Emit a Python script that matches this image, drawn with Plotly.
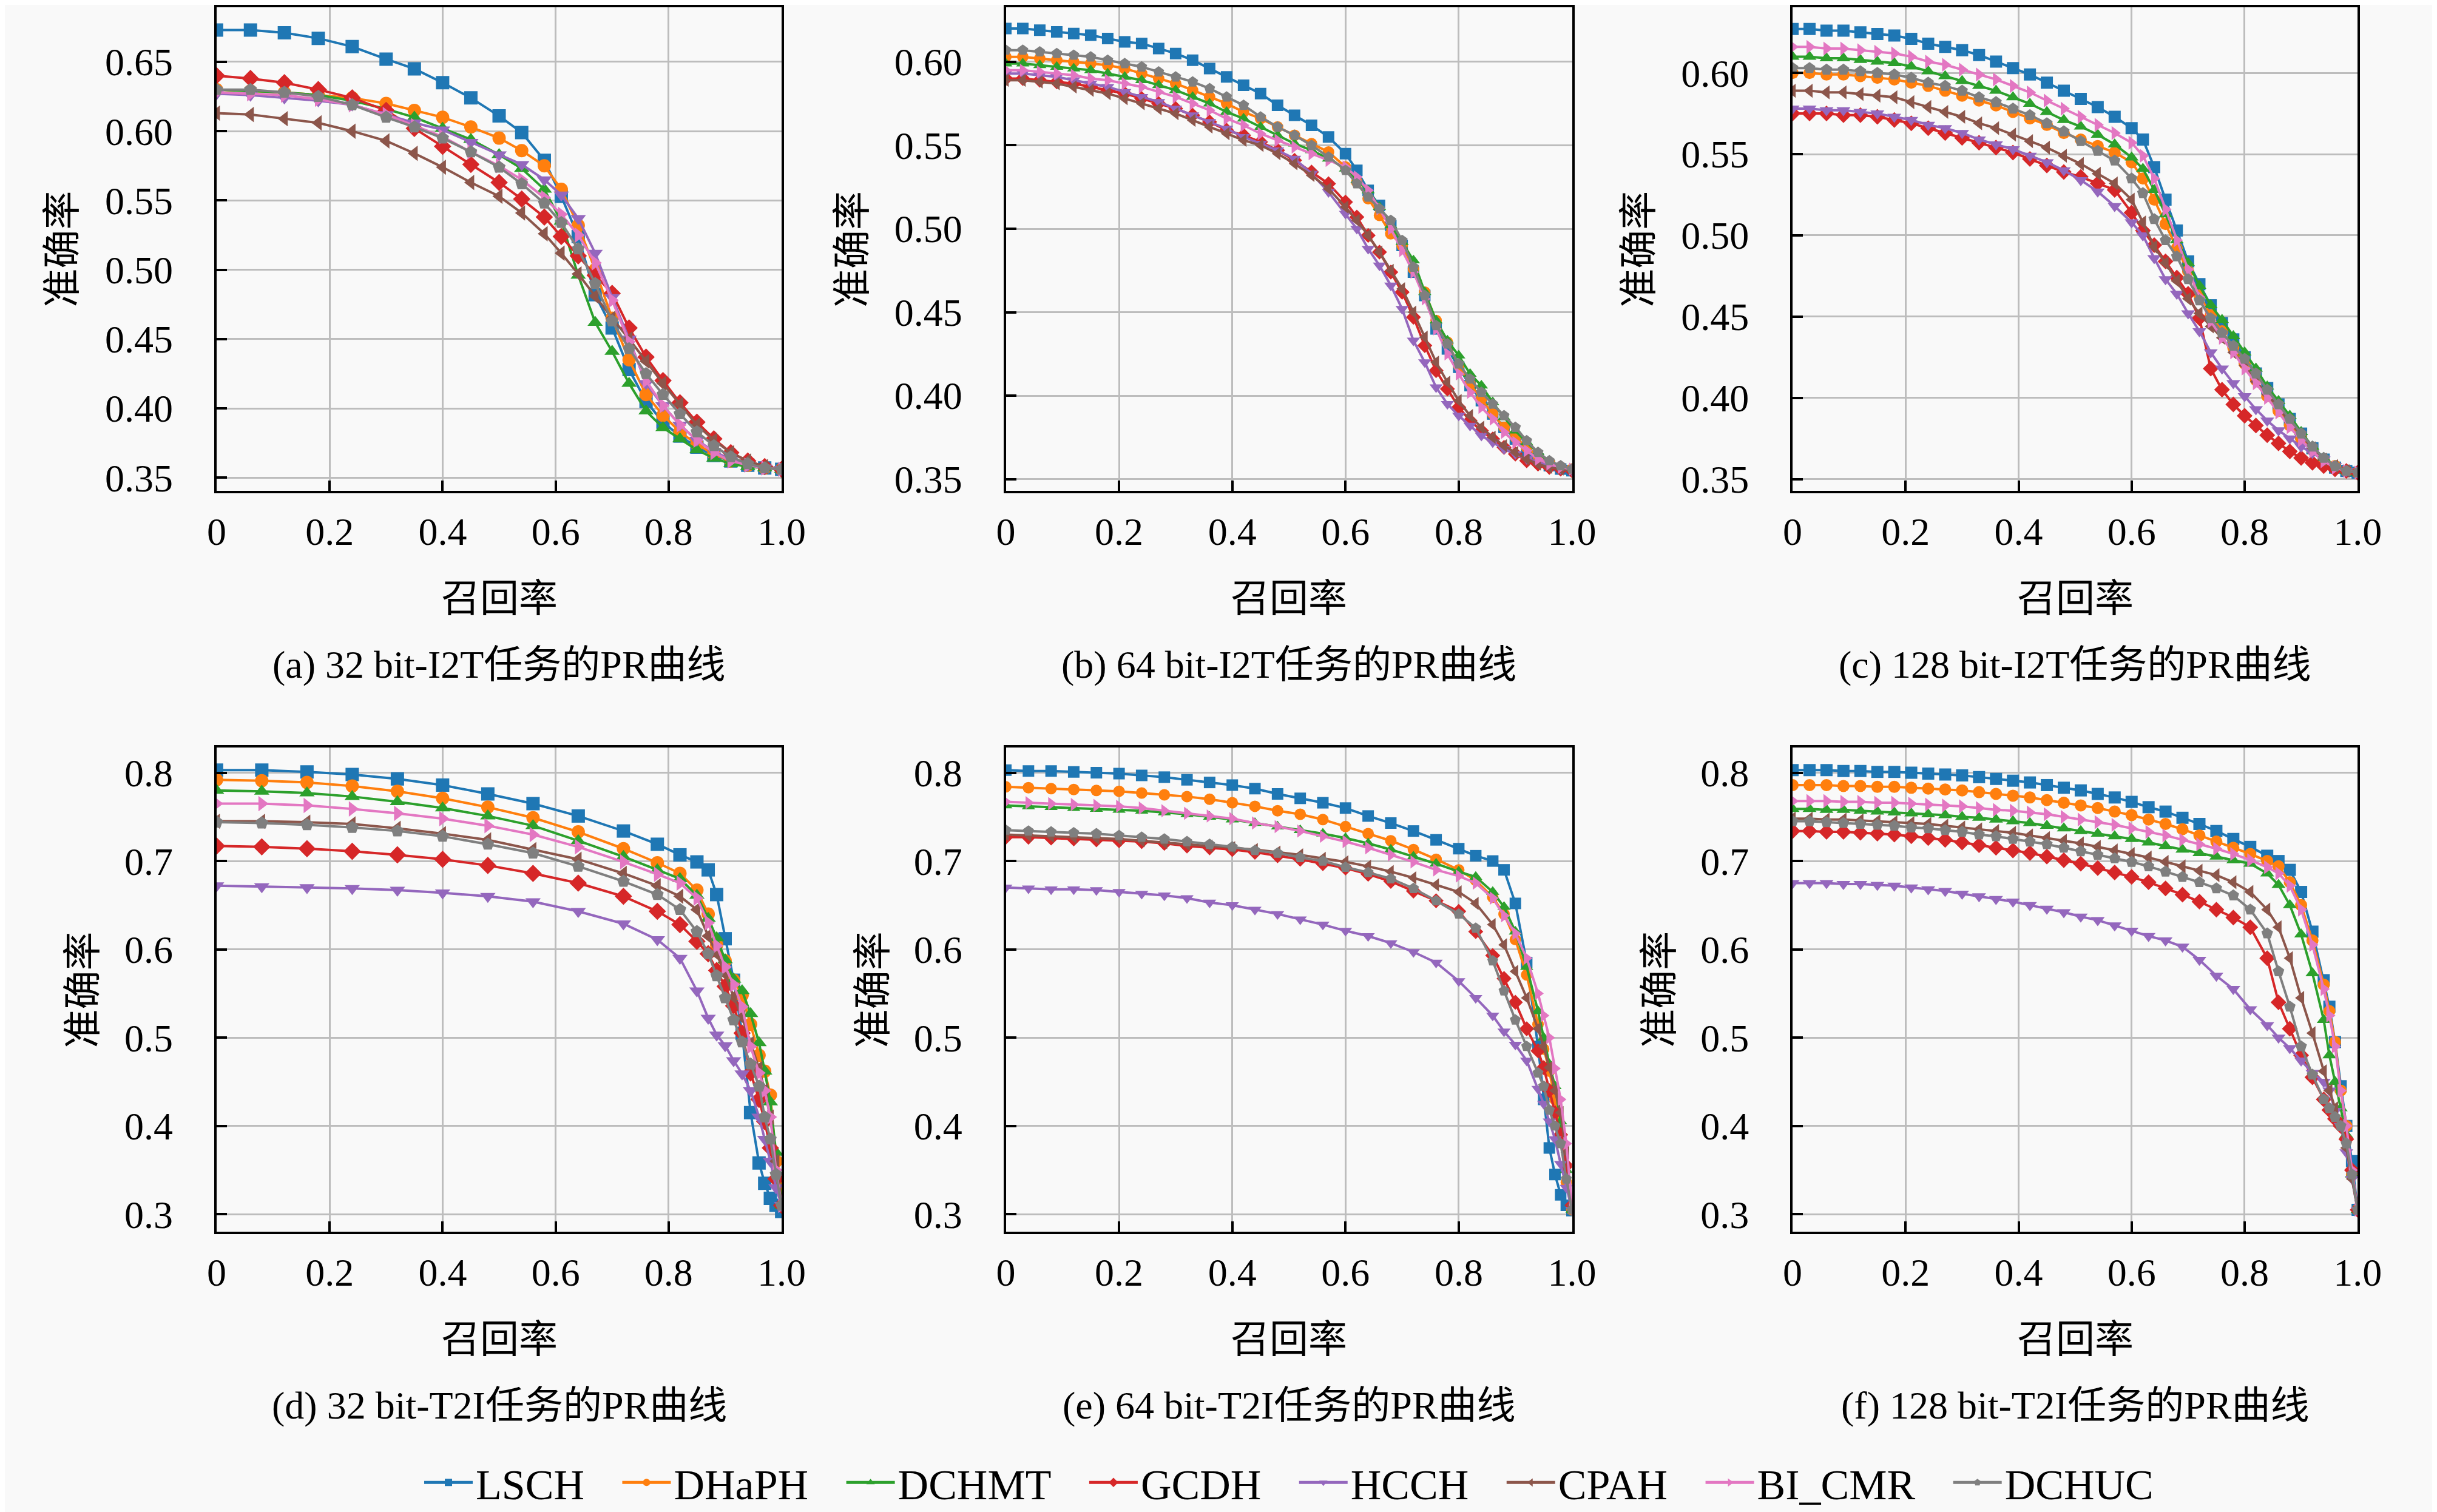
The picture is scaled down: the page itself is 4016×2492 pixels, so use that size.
import plotly.graph_objects as go

W, H = 4016, 2492

METHODS = ["LSCH", "DHaPH", "DCHMT", "GCDH", "HCCH", "CPAH", "BI_CMR", "DCHUC"]
COLORS = ["#1f77b4", "#ff7f0e", "#2ca02c", "#d62728", "#9467bd", "#8c564b", "#e377c2", "#7f7f7f"]
SYMBOLS = ["square", "circle", "triangle-up", "diamond", "triangle-down",
           "triangle-left", "triangle-right", "pentagon"]

X_TICKS = [0, 0.2, 0.4, 0.6, 0.8, 1.0]
X_TICK_TEXT = ["0", "0.2", "0.4", "0.6", "0.8", "1.0"]
Y_TICKS_A = [0.35, 0.40, 0.45, 0.50, 0.55, 0.60, 0.65]
Y_TICKS_BC = [0.35, 0.40, 0.45, 0.50, 0.55, 0.60]
Y_TICKS_DEF = [0.3, 0.4, 0.5, 0.6, 0.7, 0.8]

CAPTIONS = ["(a) 32 bit-I2T任务的PR曲线", "(b) 64 bit-I2T任务的PR曲线", "(c) 128 bit-I2T任务的PR曲线",
            "(d) 32 bit-T2I任务的PR曲线", "(e) 64 bit-T2I任务的PR曲线", "(f) 128 bit-T2I任务的PR曲线"]
X_TITLE = "召回率"
Y_TITLE = "准确率"

# ---------------- (a) 32 bit I2T ----------------
R_A = [0, 0.06, 0.12, 0.18, 0.24, 0.30, 0.35, 0.40, 0.45, 0.50, 0.54, 0.58, 0.61,
       0.64, 0.67, 0.70, 0.73, 0.76, 0.79, 0.82, 0.85, 0.88, 0.91, 0.94, 0.97, 1.0]
A_LSCH = [0.673, 0.673, 0.671, 0.667, 0.661, 0.652, 0.645, 0.635, 0.624, 0.611, 0.599, 0.579, 0.553,
          0.524, 0.482, 0.458, 0.428, 0.405, 0.390, 0.380, 0.372, 0.366, 0.362, 0.359, 0.357, 0.356]
A_DHAPH = [0.630, 0.629, 0.628, 0.626, 0.624, 0.620, 0.615, 0.610, 0.603, 0.595, 0.586, 0.575, 0.558,
           0.532, 0.500, 0.465, 0.435, 0.410, 0.395, 0.383, 0.374, 0.367, 0.362, 0.359, 0.357, 0.356]
A_DCHMT = [0.630, 0.629, 0.628, 0.626, 0.622, 0.616, 0.610, 0.602, 0.594, 0.583, 0.573, 0.558, 0.535,
           0.496, 0.462, 0.441, 0.418, 0.398, 0.386, 0.378, 0.370, 0.364, 0.360, 0.358, 0.357, 0.356]
A_GCDH = [0.640, 0.638, 0.635, 0.630, 0.624, 0.615, 0.602, 0.589, 0.576, 0.563, 0.551, 0.538, 0.524,
          0.510, 0.496, 0.483, 0.458, 0.437, 0.420, 0.404, 0.390, 0.378, 0.368, 0.362, 0.358, 0.356]
A_HCCH = [0.627, 0.626, 0.624, 0.622, 0.619, 0.612, 0.606, 0.601, 0.592, 0.583, 0.576, 0.565, 0.554,
          0.537, 0.512, 0.480, 0.450, 0.418, 0.402, 0.388, 0.377, 0.369, 0.363, 0.359, 0.357, 0.356]
A_CPAH = [0.613, 0.612, 0.609, 0.606, 0.600, 0.593, 0.584, 0.574, 0.563, 0.553, 0.541, 0.526, 0.512,
          0.497, 0.481, 0.465, 0.450, 0.434, 0.418, 0.403, 0.388, 0.377, 0.368, 0.362, 0.358, 0.356]
A_BICMR = [0.628, 0.627, 0.626, 0.623, 0.619, 0.612, 0.604, 0.596, 0.585, 0.575, 0.565, 0.552, 0.540,
           0.525, 0.505, 0.478, 0.448, 0.420, 0.402, 0.388, 0.377, 0.368, 0.362, 0.359, 0.357, 0.356]
A_DCHUC = [0.630, 0.630, 0.628, 0.625, 0.619, 0.610, 0.603, 0.595, 0.585, 0.574, 0.562, 0.548, 0.534,
           0.515, 0.490, 0.463, 0.443, 0.425, 0.410, 0.396, 0.383, 0.373, 0.365, 0.360, 0.357, 0.356]

# ---------------- (b) 64 bit I2T and (c) 128 bit I2T share recall points ----------------
R_BC = [0, 0.03, 0.06, 0.09, 0.12, 0.15, 0.18, 0.21, 0.24, 0.27, 0.30, 0.33, 0.36, 0.39, 0.42,
        0.45, 0.48, 0.51, 0.54, 0.57, 0.60,
        0.62, 0.64, 0.66, 0.68, 0.70, 0.72, 0.74, 0.76, 0.78, 0.80,
        0.82, 0.84, 0.86, 0.88, 0.90, 0.92, 0.94, 0.96, 0.98, 1.0]
B_LSCH = [0.620, 0.620, 0.619, 0.618, 0.617, 0.616, 0.614, 0.612, 0.611, 0.608, 0.605, 0.601, 0.596, 0.591,
          0.586, 0.581, 0.574, 0.568, 0.562, 0.555, 0.545,
          0.535, 0.523, 0.514, 0.502, 0.490, 0.474, 0.460, 0.440, 0.428, 0.417,
          0.406, 0.397, 0.389, 0.381, 0.374, 0.367, 0.362, 0.358, 0.356, 0.355]
B_DHAPH = [0.603, 0.603, 0.602, 0.601, 0.600, 0.599, 0.598, 0.596, 0.593, 0.590, 0.587, 0.583, 0.579, 0.575,
           0.570, 0.566, 0.561, 0.556, 0.551, 0.546, 0.537,
           0.528, 0.518, 0.508, 0.497, 0.490, 0.476, 0.462, 0.445, 0.432, 0.418,
           0.407, 0.398, 0.389, 0.381, 0.375, 0.369, 0.364, 0.360, 0.357, 0.356]
B_DCHMT = [0.599, 0.599, 0.598, 0.597, 0.596, 0.595, 0.593, 0.591, 0.589, 0.586, 0.583, 0.579, 0.575, 0.570,
           0.566, 0.561, 0.556, 0.551, 0.547, 0.542, 0.536,
           0.529, 0.523, 0.513, 0.502, 0.492, 0.481, 0.462, 0.445, 0.433, 0.424,
           0.413, 0.406, 0.396, 0.387, 0.379, 0.372, 0.366, 0.360, 0.357, 0.356]
B_GCDH = [0.590, 0.590, 0.589, 0.588, 0.587, 0.585, 0.583, 0.581, 0.578, 0.575, 0.572, 0.568, 0.564, 0.559,
          0.556, 0.552, 0.547, 0.541, 0.534, 0.527, 0.516,
          0.507, 0.496, 0.486, 0.474, 0.462, 0.447, 0.430, 0.415, 0.404, 0.393,
          0.385, 0.379, 0.374, 0.369, 0.365, 0.361, 0.359, 0.357, 0.356, 0.355]
B_HCCH = [0.593, 0.593, 0.592, 0.591, 0.589, 0.587, 0.585, 0.582, 0.579, 0.576, 0.572, 0.568, 0.564, 0.560,
          0.555, 0.551, 0.547, 0.542, 0.533, 0.522, 0.509,
          0.500, 0.488, 0.478, 0.466, 0.452, 0.433, 0.420, 0.405, 0.395, 0.388,
          0.382, 0.376, 0.372, 0.368, 0.365, 0.362, 0.360, 0.358, 0.356, 0.355]
B_CPAH = [0.589, 0.589, 0.588, 0.587, 0.585, 0.583, 0.581, 0.578, 0.575, 0.572, 0.569, 0.565, 0.561, 0.557,
          0.553, 0.550, 0.545, 0.539, 0.532, 0.524, 0.513,
          0.505, 0.496, 0.486, 0.475, 0.464, 0.450, 0.435, 0.420, 0.408, 0.397,
          0.388, 0.381, 0.375, 0.370, 0.366, 0.362, 0.359, 0.357, 0.356, 0.355]
B_BICMR = [0.595, 0.595, 0.594, 0.593, 0.592, 0.590, 0.589, 0.587, 0.585, 0.582, 0.579, 0.575, 0.571, 0.566,
           0.562, 0.557, 0.553, 0.549, 0.545, 0.541, 0.537,
           0.531, 0.523, 0.512, 0.500, 0.487, 0.474, 0.458, 0.440, 0.425, 0.413,
           0.402, 0.393, 0.386, 0.378, 0.372, 0.367, 0.362, 0.359, 0.357, 0.356]
B_DCHUC = [0.607, 0.607, 0.606, 0.605, 0.604, 0.603, 0.601, 0.599, 0.597, 0.594, 0.591, 0.588, 0.584, 0.579,
           0.574, 0.567, 0.561, 0.556, 0.550, 0.543, 0.535,
           0.527, 0.519, 0.512, 0.505, 0.493, 0.477, 0.460, 0.442, 0.431, 0.419,
           0.410, 0.402, 0.395, 0.388, 0.381, 0.373, 0.366, 0.361, 0.358, 0.356]

C_LSCH = [0.627, 0.627, 0.626, 0.626, 0.625, 0.624, 0.623, 0.621, 0.618, 0.616, 0.614, 0.611, 0.607, 0.603,
          0.599, 0.594, 0.589, 0.584, 0.579, 0.573, 0.566,
          0.559, 0.542, 0.522, 0.503, 0.484, 0.470, 0.457, 0.446, 0.436, 0.425,
          0.415, 0.406, 0.396, 0.387, 0.378, 0.369, 0.362, 0.357, 0.355, 0.354]
C_DHAPH = [0.600, 0.600, 0.599, 0.599, 0.598, 0.597, 0.596, 0.594, 0.592, 0.589, 0.586, 0.583, 0.580, 0.576,
           0.572, 0.568, 0.563, 0.559, 0.555, 0.551, 0.545,
           0.535, 0.522, 0.507, 0.492, 0.478, 0.463, 0.451, 0.441, 0.431, 0.421,
           0.411, 0.401, 0.392, 0.383, 0.375, 0.368, 0.362, 0.358, 0.355, 0.354]
C_DCHMT = [0.610, 0.610, 0.609, 0.609, 0.608, 0.607, 0.606, 0.604, 0.601, 0.598, 0.595, 0.592, 0.589, 0.585,
           0.581, 0.576, 0.571, 0.567, 0.562, 0.556, 0.548,
           0.541, 0.528, 0.513, 0.497, 0.483, 0.469, 0.457, 0.448, 0.438, 0.428,
           0.418, 0.407, 0.398, 0.389, 0.379, 0.370, 0.363, 0.358, 0.355, 0.354]
C_GCDH = [0.575, 0.575, 0.575, 0.574, 0.574, 0.573, 0.571, 0.569, 0.566, 0.563, 0.560, 0.557, 0.554, 0.551,
          0.547, 0.543, 0.539, 0.536, 0.532, 0.528, 0.514,
          0.503, 0.494, 0.484, 0.474, 0.464, 0.449, 0.418, 0.405, 0.396, 0.389,
          0.383, 0.377, 0.372, 0.367, 0.363, 0.360, 0.358, 0.356, 0.355, 0.354]
C_HCCH = [0.578, 0.578, 0.577, 0.577, 0.576, 0.575, 0.573, 0.571, 0.568, 0.566, 0.563, 0.559, 0.556, 0.553,
          0.549, 0.545, 0.540, 0.534, 0.527, 0.518, 0.508,
          0.500, 0.486, 0.473, 0.464, 0.452, 0.441, 0.428, 0.418, 0.409, 0.401,
          0.393, 0.386, 0.380, 0.375, 0.370, 0.366, 0.362, 0.358, 0.355, 0.354]
C_CPAH = [0.589, 0.589, 0.588, 0.588, 0.587, 0.586, 0.585, 0.582, 0.579, 0.576, 0.573, 0.569, 0.566, 0.562,
          0.558, 0.554, 0.549, 0.544, 0.538, 0.532, 0.522,
          0.508, 0.493, 0.483, 0.472, 0.461, 0.452, 0.444, 0.437, 0.428, 0.420,
          0.410, 0.402, 0.394, 0.385, 0.377, 0.369, 0.362, 0.358, 0.355, 0.354]
C_BICMR = [0.616, 0.616, 0.615, 0.615, 0.614, 0.613, 0.612, 0.610, 0.607, 0.605, 0.602, 0.599, 0.596, 0.592,
           0.588, 0.583, 0.578, 0.573, 0.568, 0.563, 0.557,
           0.549, 0.535, 0.516, 0.497, 0.479, 0.462, 0.447, 0.437, 0.428, 0.418,
           0.409, 0.400, 0.391, 0.382, 0.374, 0.367, 0.361, 0.357, 0.355, 0.354]
C_DCHUC = [0.603, 0.603, 0.602, 0.602, 0.601, 0.600, 0.599, 0.597, 0.594, 0.592, 0.589, 0.585, 0.582, 0.578,
           0.574, 0.569, 0.564, 0.558, 0.552, 0.546, 0.535,
           0.526, 0.510, 0.497, 0.487, 0.473, 0.460, 0.449, 0.440, 0.432, 0.424,
           0.415, 0.405, 0.396, 0.387, 0.378, 0.370, 0.363, 0.358, 0.355, 0.354]

# ---------------- (d) 32 bit T2I ----------------
R_D = [0, 0.08, 0.16, 0.24, 0.32, 0.40, 0.48, 0.56, 0.64, 0.72, 0.78, 0.82, 0.85, 0.87,
       0.885, 0.90, 0.915, 0.93, 0.945, 0.96, 0.97, 0.98, 0.99, 1.0]
D_LSCH = [0.803, 0.803, 0.801, 0.798, 0.793, 0.786, 0.776, 0.765, 0.751, 0.734, 0.719, 0.707, 0.699, 0.690,
          0.662, 0.612, 0.565, 0.505, 0.415, 0.358, 0.335, 0.318, 0.310, 0.303]
D_DHAPH = [0.792, 0.791, 0.789, 0.785, 0.779, 0.771, 0.761, 0.749, 0.733, 0.714, 0.698, 0.686, 0.667, 0.640,
           0.605, 0.587, 0.565, 0.548, 0.515, 0.480, 0.462, 0.435, 0.360, 0.330]
D_DCHMT = [0.780, 0.779, 0.777, 0.773, 0.767, 0.760, 0.751, 0.740, 0.723, 0.705, 0.690, 0.680, 0.661, 0.635,
           0.613, 0.588, 0.566, 0.553, 0.527, 0.494, 0.462, 0.427, 0.370, 0.310]
D_GCDH = [0.717, 0.716, 0.714, 0.711, 0.707, 0.702, 0.695, 0.686, 0.675, 0.660, 0.643, 0.628, 0.609, 0.595,
          0.576, 0.558, 0.536, 0.505, 0.460, 0.430, 0.405, 0.375, 0.340, 0.310]
D_HCCH = [0.672, 0.671, 0.670, 0.669, 0.667, 0.664, 0.660, 0.654, 0.643, 0.629, 0.611, 0.590, 0.553, 0.522,
          0.503, 0.491, 0.474, 0.459, 0.440, 0.410, 0.385, 0.360, 0.330, 0.310]
D_CPAH = [0.745, 0.745, 0.744, 0.742, 0.737, 0.731, 0.724, 0.713, 0.702, 0.686, 0.672, 0.660, 0.645, 0.615,
          0.595, 0.572, 0.546, 0.523, 0.493, 0.465, 0.440, 0.410, 0.360, 0.310]
D_BICMR = [0.765, 0.765, 0.763, 0.759, 0.754, 0.748, 0.740, 0.730, 0.716, 0.699, 0.685, 0.675, 0.658, 0.630,
           0.604, 0.580, 0.560, 0.535, 0.490, 0.460, 0.440, 0.410, 0.350, 0.310]
D_DCHUC = [0.744, 0.743, 0.741, 0.738, 0.734, 0.728, 0.719, 0.709, 0.694, 0.677, 0.662, 0.645, 0.620, 0.595,
           0.570, 0.545, 0.520, 0.495, 0.470, 0.445, 0.410, 0.385, 0.345, 0.310]

# ---------------- (e) 64 bit T2I ----------------
R_E = [0, 0.04, 0.08, 0.12, 0.16, 0.20, 0.24, 0.28, 0.32, 0.36, 0.40, 0.44, 0.48, 0.52, 0.56,
       0.60, 0.64, 0.68, 0.72, 0.76, 0.80,
       0.83, 0.86, 0.88, 0.90, 0.92, 0.94, 0.95, 0.96, 0.97, 0.98, 0.99, 1.0]
E_LSCH = [0.803, 0.802, 0.802, 0.801, 0.800, 0.799, 0.797, 0.795, 0.792, 0.789, 0.786, 0.782, 0.776, 0.771,
          0.766, 0.760, 0.751, 0.743, 0.734, 0.724, 0.714,
          0.706, 0.700, 0.690, 0.652, 0.585, 0.490, 0.430, 0.375, 0.345, 0.322, 0.310, 0.304]
E_DHAPH = [0.784, 0.783, 0.782, 0.781, 0.780, 0.779, 0.777, 0.775, 0.773, 0.770, 0.766, 0.762, 0.757, 0.753,
           0.747, 0.739, 0.731, 0.723, 0.713, 0.702, 0.690,
           0.678, 0.659, 0.640, 0.611, 0.571, 0.515, 0.487, 0.462, 0.430, 0.390, 0.336, 0.305]
E_DCHMT = [0.763, 0.762, 0.761, 0.760, 0.759, 0.758, 0.757, 0.755, 0.753, 0.750, 0.747, 0.743, 0.739, 0.735,
           0.731, 0.726, 0.720, 0.713, 0.705, 0.697, 0.688,
           0.682, 0.665, 0.648, 0.620, 0.580, 0.530, 0.500, 0.470, 0.445, 0.405, 0.350, 0.305]
E_GCDH = [0.727, 0.727, 0.726, 0.725, 0.724, 0.723, 0.722, 0.720, 0.717, 0.715, 0.713, 0.710, 0.706, 0.702,
          0.697, 0.692, 0.685, 0.677, 0.666, 0.655, 0.643,
          0.620, 0.593, 0.567, 0.540, 0.510, 0.485, 0.466, 0.440, 0.415, 0.390, 0.355, 0.310]
E_HCCH = [0.670, 0.669, 0.668, 0.668, 0.667, 0.665, 0.663, 0.661, 0.658, 0.653, 0.650, 0.645, 0.640, 0.634,
          0.628, 0.621, 0.615, 0.607, 0.597, 0.585, 0.564,
          0.545, 0.525, 0.507, 0.492, 0.474, 0.442, 0.425, 0.405, 0.385, 0.357, 0.330, 0.305]
E_CPAH = [0.730, 0.729, 0.728, 0.727, 0.726, 0.725, 0.723, 0.721, 0.719, 0.717, 0.715, 0.713, 0.710, 0.707,
          0.703, 0.699, 0.694, 0.688, 0.681, 0.673, 0.665,
          0.652, 0.628, 0.605, 0.575, 0.545, 0.510, 0.490, 0.466, 0.440, 0.415, 0.370, 0.310]
E_BICMR = [0.767, 0.766, 0.765, 0.764, 0.763, 0.762, 0.760, 0.757, 0.754, 0.751, 0.748, 0.743, 0.739, 0.734,
           0.728, 0.722, 0.715, 0.707, 0.699, 0.690, 0.683,
           0.675, 0.658, 0.638, 0.618, 0.590, 0.550, 0.525, 0.500, 0.465, 0.430, 0.380, 0.310]
E_DCHUC = [0.735, 0.734, 0.733, 0.732, 0.731, 0.729, 0.727, 0.725, 0.722, 0.719, 0.716, 0.712, 0.709, 0.704,
           0.700, 0.693, 0.687, 0.680, 0.669, 0.655, 0.640,
           0.624, 0.587, 0.553, 0.520, 0.490, 0.460, 0.445, 0.418, 0.400, 0.380, 0.340, 0.305]

# ---------------- (f) 128 bit T2I ----------------
R_F = [0, 0.03, 0.06, 0.09, 0.12, 0.15, 0.18, 0.21, 0.24, 0.27, 0.30, 0.33, 0.36, 0.39,
       0.42, 0.45, 0.48, 0.51, 0.54, 0.57, 0.60, 0.63, 0.66, 0.69, 0.72, 0.75, 0.78,
       0.81, 0.84, 0.86, 0.88, 0.90, 0.92, 0.94, 0.95, 0.96, 0.97, 0.98, 0.99, 1.0]
F_LSCH = [0.803, 0.803, 0.803, 0.802, 0.802, 0.801, 0.801, 0.800, 0.799, 0.798, 0.797, 0.795, 0.793, 0.791,
          0.789, 0.786, 0.783, 0.780, 0.776, 0.772, 0.767, 0.761, 0.756, 0.749, 0.742, 0.734, 0.725,
          0.716, 0.706, 0.700, 0.690, 0.665, 0.620, 0.565, 0.535, 0.495, 0.445, 0.400, 0.360, 0.305]
F_DHAPH = [0.786, 0.786, 0.786, 0.785, 0.785, 0.784, 0.784, 0.783, 0.782, 0.781, 0.780, 0.778, 0.776, 0.774,
           0.772, 0.769, 0.766, 0.763, 0.760, 0.756, 0.752, 0.747, 0.742, 0.736, 0.729, 0.722, 0.715,
           0.708, 0.700, 0.694, 0.676, 0.650, 0.610, 0.560, 0.530, 0.495, 0.440, 0.400, 0.345, 0.305]
F_DCHMT = [0.759, 0.759, 0.758, 0.758, 0.757, 0.756, 0.755, 0.754, 0.753, 0.752, 0.750, 0.749, 0.747, 0.745,
           0.743, 0.740, 0.737, 0.734, 0.731, 0.728, 0.725, 0.721, 0.717, 0.713, 0.709, 0.705, 0.701,
           0.697, 0.686, 0.673, 0.650, 0.617, 0.573, 0.520, 0.480, 0.450, 0.420, 0.390, 0.345, 0.305]
F_GCDH = [0.734, 0.734, 0.733, 0.733, 0.732, 0.731, 0.730, 0.728, 0.726, 0.724, 0.721, 0.718, 0.715, 0.712,
          0.709, 0.705, 0.701, 0.697, 0.692, 0.687, 0.682, 0.676, 0.669, 0.662, 0.654, 0.645, 0.636,
          0.625, 0.590, 0.540, 0.510, 0.480, 0.455, 0.430, 0.418, 0.408, 0.400, 0.385, 0.350, 0.305]
F_HCCH = [0.675, 0.675, 0.675, 0.674, 0.674, 0.673, 0.672, 0.670, 0.668, 0.666, 0.663, 0.660, 0.657, 0.654,
          0.650, 0.646, 0.642, 0.637, 0.633, 0.627, 0.621, 0.615, 0.610, 0.603, 0.588, 0.570, 0.555,
          0.532, 0.514, 0.500, 0.488, 0.474, 0.460, 0.450, 0.440, 0.417, 0.400, 0.370, 0.340, 0.305]
F_CPAH = [0.748, 0.748, 0.747, 0.747, 0.746, 0.745, 0.744, 0.743, 0.742, 0.740, 0.738, 0.736, 0.734, 0.732,
          0.729, 0.726, 0.723, 0.720, 0.716, 0.712, 0.708, 0.704, 0.699, 0.694, 0.689, 0.684, 0.676,
          0.665, 0.645, 0.625, 0.590, 0.545, 0.505, 0.462, 0.440, 0.420, 0.400, 0.375, 0.340, 0.305]
F_BICMR = [0.768, 0.768, 0.768, 0.767, 0.767, 0.766, 0.766, 0.765, 0.764, 0.763, 0.762, 0.760, 0.758, 0.757,
           0.755, 0.753, 0.750, 0.747, 0.744, 0.741, 0.737, 0.733, 0.729, 0.724, 0.719, 0.714, 0.708,
           0.701, 0.693, 0.686, 0.672, 0.645, 0.605, 0.555, 0.525, 0.490, 0.440, 0.400, 0.350, 0.305]
F_DCHUC = [0.745, 0.745, 0.744, 0.743, 0.742, 0.741, 0.740, 0.738, 0.737, 0.735, 0.733, 0.730, 0.728, 0.725,
           0.722, 0.719, 0.715, 0.711, 0.707, 0.703, 0.699, 0.694, 0.688, 0.682, 0.676, 0.669, 0.661,
           0.645, 0.618, 0.575, 0.535, 0.490, 0.458, 0.430, 0.420, 0.410, 0.400, 0.380, 0.345, 0.305]

# ---------------- layout geometry (pixels of the 4016x2492 page) ----------------
COL_L = [337.6, 1656.6, 2971.5]
COL_R = [1282.0, 2602.8, 3915.8]
ROW_T = [1.0, 1231.0]
ROW_B = [804.6, 2035.6]
XTITLE_Y = [983, 2214]
CAPTION_Y = [1093, 2324]
YTITLE_X = [[80, 1400, 2714], [114, 1434, 2749]]
Y_RANGES = [[0.3404, 0.6894], [0.3429, 0.6327], [0.3427, 0.6404],
            [0.280, 0.8285], [0.280, 0.8285], [0.280, 0.8285]]

PANELS = [
    (R_A, [A_LSCH, A_DHAPH, A_DCHMT, A_GCDH, A_HCCH, A_CPAH, A_BICMR, A_DCHUC], Y_TICKS_A, 2, 22),
    (R_BC, [B_LSCH, B_DHAPH, B_DCHMT, B_GCDH, B_HCCH, B_CPAH, B_BICMR, B_DCHUC], Y_TICKS_BC, 2, 19),
    (R_BC, [C_LSCH, C_DHAPH, C_DCHMT, C_GCDH, C_HCCH, C_CPAH, C_BICMR, C_DCHUC], Y_TICKS_BC, 2, 20),
    (R_D, [D_LSCH, D_DHAPH, D_DCHMT, D_GCDH, D_HCCH, D_CPAH, D_BICMR, D_DCHUC], Y_TICKS_DEF, 1, 22),
    (R_E, [E_LSCH, E_DHAPH, E_DCHMT, E_GCDH, E_HCCH, E_CPAH, E_BICMR, E_DCHUC], Y_TICKS_DEF, 1, 19),
    (R_F, [F_LSCH, F_DHAPH, F_DCHMT, F_GCDH, F_HCCH, F_CPAH, F_BICMR, F_DCHUC], Y_TICKS_DEF, 1, 20),
]

FONT = "Liberation Serif, Noto Sans CJK SC, serif"
FS = 64
BG = "#f9f9f9"
PAD = "\u00a0\u00a0\u00a0"

fig = go.Figure()
layout = dict(
    width=W, height=H,
    margin=dict(l=0, r=0, t=0, b=0),
    paper_bgcolor=BG, plot_bgcolor=BG,
    font=dict(family=FONT, size=FS, color="black"),
    showlegend=True,
    legend=dict(orientation="h", x=0.537, xanchor="center", y=1 - 2452 / H, yanchor="middle",
                font=dict(family=FONT, size=70, color="black"), bgcolor="rgba(0,0,0,0)",
                itemsizing="constant", itemwidth=80, tracegroupgap=0),
)
annotations = []

for p, (rec, series, yticks, dec, msize) in enumerate(PANELS):
    row, col = divmod(p, 3)
    idx = p + 1
    xa = "x" if idx == 1 else f"x{idx}"
    ya = "y" if idx == 1 else f"y{idx}"
    for m, vals in enumerate(series):
        assert len(vals) == len(rec), (p, m, len(vals), len(rec))
        fig.add_trace(go.Scatter(
            x=rec, y=vals, xaxis=xa, yaxis=ya, mode="lines+markers",
            name=METHODS[m] + PAD, legendgroup=METHODS[m], showlegend=(p == 0),
            line=dict(color=COLORS[m], width=4),
            marker=dict(symbol=SYMBOLS[m], size=msize, color=COLORS[m], line=dict(width=0)),
        ))
    x0, x1 = COL_L[col] / W, COL_R[col] / W
    y0, y1 = 1 - ROW_B[row] / H, 1 - ROW_T[row] / H
    common = dict(showline=True, linecolor="black", linewidth=4, mirror=True,
                  ticks="inside", ticklen=17, tickwidth=4, tickcolor="black",
                  showgrid=True, gridcolor="#bdbdbd", gridwidth=3, zeroline=False,
                  tickfont=dict(family=FONT, size=FS, color="black"))
    layout["xaxis" if idx == 1 else f"xaxis{idx}"] = dict(
        domain=[x0, x1], anchor=ya, range=[0, 1], tickmode="array",
        tickvals=X_TICKS, ticktext=X_TICK_TEXT, ticklabelstandoff=8, **common)
    layout["yaxis" if idx == 1 else f"yaxis{idx}"] = dict(
        domain=[y0, y1], anchor=xa, range=Y_RANGES[p], tickmode="array",
        tickvals=yticks, ticktext=[f"{v:.{dec}f}" for v in yticks], ticklabelstandoff=55, **common)
    cx = (COL_L[col] + COL_R[col]) / 2 / W
    annotations.append(dict(text=X_TITLE, x=cx, y=1 - XTITLE_Y[row] / H, xref="paper", yref="paper",
                            showarrow=False, xanchor="center", yanchor="middle",
                            font=dict(family=FONT, size=FS, color="black")))
    annotations.append(dict(text=CAPTIONS[p], x=cx, y=1 - CAPTION_Y[row] / H, xref="paper", yref="paper",
                            showarrow=False, xanchor="center", yanchor="middle",
                            font=dict(family=FONT, size=FS, color="black")))
    annotations.append(dict(text=Y_TITLE, x=YTITLE_X[row][col] / W,
                            y=1 - (ROW_T[row] + ROW_B[row]) / 2 / H, xref="paper", yref="paper",
                            showarrow=False, xanchor="center", yanchor="middle", textangle=-90,
                            font=dict(family=FONT, size=FS, color="black")))

layout["annotations"] = annotations
fig.update_layout(**layout)
fig.write_html("out.html")
